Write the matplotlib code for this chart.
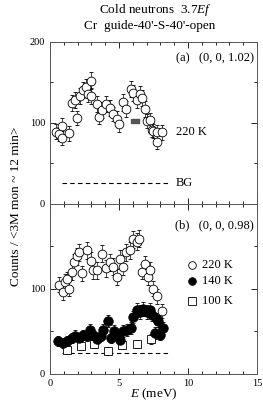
import matplotlib
matplotlib.use("Agg")
import matplotlib.pyplot as plt
from matplotlib.ticker import MultipleLocator, FixedLocator

plt.rcParams['font.family'] = ['Liberation Serif', 'DejaVu Serif']
plt.rcParams['mathtext.fontset'] = 'custom'
plt.rcParams['mathtext.it'] = 'Liberation Serif:italic'
plt.rcParams['mathtext.rm'] = 'Liberation Serif'

# Panel (a): 220 K at (0,0,1.02)
E_a = [0.43, 0.63, 0.87, 0.87, 1.35, 1.57, 1.79, 1.98, 2.17, 2.37, 2.6, 2.78, 2.97, 3.0,
       3.38, 3.58, 3.74, 4.06, 4.35, 4.59, 4.88, 5.03, 5.3, 5.5, 5.84, 6.04, 6.28, 6.52,
       6.7, 6.88, 7.05, 7.25, 7.37, 7.49, 7.73, 7.78, 8.09]
C_a = [89, 86, 96, 81, 87, 124, 128, 106, 133, 140, 144, 135, 152, 133,
       123, 107, 116, 123, 118, 111, 105, 98, 125, 117, 142, 137, 128, 135,
       131, 117, 102, 103, 91, 90, 88, 76, 88]
err_a = [9, 9, 10, 9, 9, 10, 10, 9, 10, 10, 10, 10, 10, 10,
         10, 9, 10, 10, 10, 9, 9, 9, 10, 10, 10, 10, 10, 10,
         10, 10, 9, 9, 9, 9, 9, 9, 9]
E_a_mark = [6.15]
C_a_mark = [102]

# Panel (b): (0,0,0.98)
E_b220 = [0.68, 0.92, 1.11, 1.26, 1.4, 1.57, 1.77, 1.93, 2.13, 2.3, 2.66, 2.95, 3.14, 3.43,
          3.74, 4.06, 4.35, 4.54, 4.83, 5.07, 5.31, 5.5, 5.8, 6.04, 6.33, 6.47, 6.64, 6.88,
          7.13, 7.25, 7.49, 7.78, 8.09]
C_b220 = [105, 96, 108, 111, 100, 120, 131, 138, 143, 118, 145, 133, 122, 122,
          141, 124, 131, 126, 114, 135, 126, 143, 145, 158, 155, 159, 120, 129,
          114, 122, 100, 91, 74]
err_b220 = [9, 9, 9, 9, 9, 10, 10, 10, 10, 9, 10, 10, 10, 10,
            10, 10, 10, 10, 9, 10, 10, 10, 10, 10, 10, 10, 9, 10,
            9, 10, 9, 9, 8]

E_b140 = [0.6, 0.92, 1.21, 1.57, 1.81, 2.13, 2.42, 2.66, 2.9, 3.14, 3.38, 3.67, 3.86, 4.23,
          4.4, 4.64, 4.88, 5.07, 5.31, 5.6, 5.85, 6.04, 6.28, 6.52, 6.76, 7.0, 7.25, 7.37,
          7.6, 7.73, 7.85, 8.0, 8.2]
C_b140 = [39, 36, 38, 42, 45, 42, 46, 44, 52, 46, 41, 44, 52, 62,
          42, 50, 46, 40, 50, 52, 54, 67, 75, 73, 76, 73, 75, 69,
          48, 64, 62, 46, 54]
err_b140 = [6, 6, 6, 6, 6, 6, 6, 6, 7, 6, 6, 6, 7, 7,
            6, 7, 6, 6, 7, 7, 7, 7, 8, 8, 8, 8, 8, 7,
            7, 7, 7, 6, 7]

E_b100 = [1.2, 2.25, 3.2, 4.2, 5.25, 6.3, 7.3]
C_b100 = [28, 33, 35, 27, 34, 35, 41]
err_b100 = [5, 5, 5, 5, 5, 5, 6]

BG_E = [0.9, 8.6]
BG_C = [25, 25]

fig = plt.figure(figsize=(2.63, 4.05), dpi=100)
ax1 = fig.add_axes([0.190, 0.497, 0.787, 0.400])
ax2 = fig.add_axes([0.190, 0.077, 0.787, 0.420])

fs_tick = 7.5
fs = 9

def style(ax):
    ax.set_xlim(0, 15)
    ax.set_ylim(0, 200)
    ax.xaxis.set_major_locator(MultipleLocator(5))
    ax.xaxis.set_minor_locator(MultipleLocator(1))
    ax.yaxis.set_major_locator(MultipleLocator(100))
    ax.yaxis.set_minor_locator(MultipleLocator(50))
    ax.tick_params(which='both', direction='in', top=True, right=True, labelsize=fs_tick, width=0.6)
    ax.tick_params(which='major', length=4)
    ax.tick_params(which='minor', length=2)
    for s in ax.spines.values():
        s.set_linewidth(0.7)
        s.set_color('#555555')

ekw = dict(ecolor='black', elinewidth=0.5, capsize=1.5, capthick=0.5)
rect = [(-1, -0.45), (1, -0.45), (1, 0.45), (-1, 0.45), (-1, -0.45)]

# Panel (a)
ax1.plot(BG_E, BG_C, ls=(0, (4, 3)), color='black', lw=0.8)
ax1.errorbar(E_a, C_a, yerr=err_a, fmt='o', ms=6.3, mfc='white', mec='black', mew=0.6, **ekw)
ax1.plot(E_a_mark, C_a_mark, ls='none', marker=rect, ms=6, color='#555555')
ax1.text(9.1, 88, '220 K', fontsize=fs, va='center')
ax1.text(9.1, 25, 'BG', fontsize=fs, va='center')
ax1.text(14.8, 180, '(a)   (0, 0, 1.02)', fontsize=fs, ha='right', va='center')
style(ax1)
ax1.tick_params(labelbottom=False)

# Panel (b)
ax2.plot(BG_E, BG_C, ls=(0, (4, 3)), color='black', lw=0.8)
ax2.errorbar(E_b220, C_b220, yerr=err_b220, fmt='o', ms=6.3, mfc='white', mec='black', mew=0.6,
             label='220 K', **ekw)
ax2.errorbar(E_b100, C_b100, yerr=err_b100, fmt='s', ms=5.5, mfc='white', mec='black', mew=0.6,
             label='100 K', **ekw)
ax2.errorbar(E_b140, C_b140, yerr=err_b140, fmt='o', ms=6.8, mfc='black', mec='black', mew=0.6,
             label='140 K', **ekw)
ax2.text(14.8, 175, '(b)   (0, 0, 0.98)', fontsize=fs, ha='right', va='center')
leg_y = [128, 109, 86]
leg_m = [dict(marker='o', mfc='white'), dict(marker='o', mfc='black'), dict(marker='s', mfc='white')]
leg_t = ['220 K', '140 K', '100 K']
for y, m, t in zip(leg_y, leg_m, leg_t):
    ax2.plot([10.3], [y], ls='none', ms=5.5, mec='black', mew=0.6, **m)
    ax2.text(11.0, y, t, fontsize=fs, va='center')
style(ax2)
ax2.yaxis.set_major_locator(FixedLocator([0, 100]))

fig.text(0.585, 0.026, '$E$ (meV)', fontsize=9.5, ha='center', va='center')
fig.text(0.06, 0.49, 'Counts / <3M mon ~ 12 min>', rotation=90, fontsize=9.5, ha='center', va='center')
fig.text(0.59, 0.975, 'Cold neutrons  3.7$Ef$', fontsize=9.5, ha='center', va='center')
fig.text(0.57, 0.937, "Cr  guide-40'-S-40'-open", fontsize=9.5, ha='center', va='center')

fig.savefig('out.png', dpi=100)
